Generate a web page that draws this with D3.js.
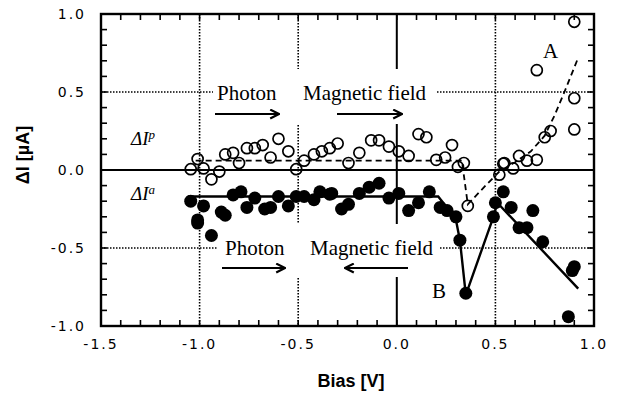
<!DOCTYPE html>
<html>
<head>
<meta charset="utf-8">
<script src="https://cdn.jsdelivr.net/npm/d3@7/dist/d3.min.js"></script>
<style>
  body { margin: 0; background: #fff; }
  svg { display: block; }
</style>
</head>
<body>
<svg id="chart" width="618" height="395"></svg>
<script>
// open circles (dI^p)
const openBias = [-1.045, -1.01, -0.98, -0.94, -0.90, -0.87, -0.83, -0.80, -0.76, -0.72, -0.68, -0.64,
  -0.60, -0.55, -0.51, -0.47, -0.42, -0.38, -0.34, -0.30, -0.245, -0.19, -0.13, -0.09, -0.04, 0.01,
  0.06, 0.11, 0.15, 0.20, 0.245, 0.28, 0.31, 0.34, 0.36, 0.52, 0.54, 0.545, 0.59, 0.62, 0.66, 0.71,
  0.75, 0.78, 0.71, 0.90, 0.90, 0.90];
const openDI = [0.005, 0.07, 0.01, -0.06, -0.01, 0.10, 0.11, 0.045, 0.14, 0.14, 0.16, 0.08,
  0.20, 0.12, 0.005, 0.06, 0.10, 0.12, 0.14, 0.17, 0.045, 0.11, 0.19, 0.19, 0.15, 0.12,
  0.09, 0.23, 0.21, 0.065, 0.08, 0.16, 0.02, 0.045, -0.23, -0.03, 0.04, 0.045, 0.01, 0.09, 0.06, 0.065,
  0.21, 0.25, 0.64, 0.26, 0.46, 0.95];

// filled circles (dI^a)
const filledBias = [-1.045, -1.01, -1.01, -0.98, -0.94, -0.89, -0.87, -0.83, -0.79, -0.76, -0.72, -0.67,
  -0.64, -0.60, -0.55, -0.51, -0.47, -0.42, -0.39, -0.34, -0.33, -0.28, -0.245, -0.19, -0.14, -0.09,
  -0.04, 0.01, 0.06, 0.11, 0.165, 0.22, 0.255, 0.30, 0.32, 0.35, 0.49, 0.50, 0.54, 0.58, 0.62, 0.66,
  0.69, 0.74, 0.87, 0.89, 0.90];
const filledDI = [-0.20, -0.32, -0.34, -0.23, -0.42, -0.27, -0.29, -0.16, -0.14, -0.24, -0.18, -0.25,
  -0.24, -0.17, -0.23, -0.17, -0.17, -0.19, -0.14, -0.155, -0.15, -0.25, -0.22, -0.15, -0.11, -0.085,
  -0.18, -0.15, -0.26, -0.21, -0.14, -0.24, -0.26, -0.30, -0.45, -0.79, -0.30, -0.21, -0.14, -0.24, -0.37, -0.37,
  -0.26, -0.46, -0.94, -0.645, -0.62];

// guide curves
const dashBias = [-1.02, 0.33, 0.36, 0.45, 0.52, 0.60, 0.68, 0.75, 0.80, 0.85, 0.92];
const dashDI = [0.06, 0.06, -0.22, -0.10, -0.01, 0.05, 0.12, 0.22, 0.35, 0.50, 0.72];
const solidBias = [-1.06, 0.21, 0.26, 0.30, 0.32, 0.35, 0.49, 0.51, 0.92];
const solidDI = [-0.17, -0.17, -0.25, -0.32, -0.45, -0.80, -0.30, -0.21, -0.76];

const xTicks = [-1.5, -1.0, -0.5, 0.0, 0.5, 1.0];
const yTicks = [-1.0, -0.5, 0.0, 0.5, 1.0];

const svg = d3.select('#chart');
const margin = {top: 14, right: 24, bottom: 69, left: 101};
const width = 618 - margin.left - margin.right,
  height = 395 - margin.top - margin.bottom;
const g = svg.append('g').attr('transform', 'translate(' + margin.left + ',' + margin.top + ')');

const x = d3.scaleLinear().domain([-1.5, 1.0]).range([0, width]);
const y = d3.scaleLinear().domain([-1.0, 1.0]).range([height, 0]);

// dotted grid
const dotted = '1.5,1.5';
[-1.0, -0.5, 0.5].forEach(function (v) {
  g.append('line').attr('x1', x(v)).attr('x2', x(v)).attr('y1', 0).attr('y2', height)
    .attr('stroke', '#000').attr('stroke-width', 1.6).attr('stroke-dasharray', dotted);
});
[-0.5, 0.5].forEach(function (v) {
  g.append('line').attr('x1', 0).attr('x2', width).attr('y1', y(v)).attr('y2', y(v))
    .attr('stroke', '#000').attr('stroke-width', 1.6).attr('stroke-dasharray', dotted);
});
// solid zero lines
g.append('line').attr('x1', 0).attr('x2', width).attr('y1', y(0)).attr('y2', y(0))
  .attr('stroke', '#000').attr('stroke-width', 2);
g.append('line').attr('x1', x(0)).attr('x2', x(0)).attr('y1', 0).attr('y2', height)
  .attr('stroke', '#000').attr('stroke-width', 2);

// white blocks behind the annotation text
g.append('rect').attr('x', 112).attr('y', 55).attr('width', 223).attr('height', 55).attr('fill', '#fff');
g.append('rect').attr('x', 117).attr('y', 210).attr('width', 222).attr('height', 53).attr('fill', '#fff');

// ticks (inward, every 0.1)
const minorX = d3.range(-15, 11).map(function (i) { return i / 10; });
const minorY = d3.range(-10, 11).map(function (i) { return i / 10; });
const tl = 6;
minorX.forEach(function (v) {
  g.append('line').attr('x1', x(v)).attr('x2', x(v)).attr('y1', height).attr('y2', height - tl)
    .attr('stroke', '#000').attr('stroke-width', 1.6);
  g.append('line').attr('x1', x(v)).attr('x2', x(v)).attr('y1', 0).attr('y2', tl)
    .attr('stroke', '#000').attr('stroke-width', 1.6);
});
minorY.forEach(function (v) {
  g.append('line').attr('x1', 0).attr('x2', tl).attr('y1', y(v)).attr('y2', y(v))
    .attr('stroke', '#000').attr('stroke-width', 1.6);
  g.append('line').attr('x1', width).attr('x2', width - tl).attr('y1', y(v)).attr('y2', y(v))
    .attr('stroke', '#000').attr('stroke-width', 1.6);
});

// frame
g.append('rect').attr('width', width).attr('height', height)
  .attr('fill', 'none').attr('stroke', '#000').attr('stroke-width', 2.4);

// tick labels
g.selectAll('.xl').data(xTicks).enter().append('text')
  .attr('x', function (d) { return x(d); }).attr('y', height + 23)
  .attr('text-anchor', 'middle')
  .style('font', '14px "DejaVu Sans"').style('letter-spacing', '2px')
  .text(function (d) { return d.toFixed(1); });
g.selectAll('.yl').data(yTicks).enter().append('text')
  .attr('x', -15).attr('y', function (d) { return y(d); }).attr('dy', '0.36em')
  .attr('text-anchor', 'end')
  .style('font', '14px "DejaVu Sans"').style('letter-spacing', '2px')
  .text(function (d) { return d.toFixed(1); });

// axis titles
svg.append('text').attr('x', 351).attr('y', 387).attr('text-anchor', 'middle')
  .style('font', 'bold 18px "Liberation Sans"').text('Bias [V]');
svg.append('text').attr('transform', 'translate(29,155) rotate(-90)').attr('text-anchor', 'middle')
  .style('font', 'bold 18px "Liberation Sans"').text('\u0394I [\u00b5A]');

// guide lines
const line = d3.line().x(function (d) { return x(d[0]); }).y(function (d) { return y(d[1]); });
g.append('path').datum(d3.zip(dashBias, dashDI)).attr('d', line)
  .attr('fill', 'none').attr('stroke', '#000').attr('stroke-width', 1.8).attr('stroke-dasharray', '6,4');
g.append('path').datum(d3.zip(solidBias, solidDI)).attr('d', line)
  .attr('fill', 'none').attr('stroke', '#000').attr('stroke-width', 2.4);

// markers
g.selectAll('.op').data(d3.zip(openBias, openDI)).enter().append('circle')
  .attr('cx', function (d) { return x(d[0]); }).attr('cy', function (d) { return y(d[1]); })
  .attr('r', 5.5).attr('fill', 'none').attr('stroke', '#000').attr('stroke-width', 1.7);
g.selectAll('.fp').data(d3.zip(filledBias, filledDI)).enter().append('circle')
  .attr('cx', function (d) { return x(d[0]); }).attr('cy', function (d) { return y(d[1]); })
  .attr('r', 6.5).attr('fill', '#000');

// annotations
const serif = '"Liberation Serif", "Times New Roman", serif';
function label(tx, ty, s, size) {
  svg.append('text').attr('x', tx).attr('y', ty).style('font-family', serif)
    .style('font-size', size + 'px').text(s);
}
label(217, 100, 'Photon', 21);
label(303, 100, 'Magnetic field', 21);
label(225, 255, 'Photon', 21);
label(310, 255, 'Magnetic field', 21);
label(543, 58, 'A', 21);
label(432, 298, 'B', 21);

function ylabel(tx, ty, sup) {
  const t = svg.append('text').attr('x', tx).attr('y', ty)
    .style('font-family', serif).style('font-size', '19px').style('font-style', 'italic');
  t.append('tspan').text('\u0394I');
  t.append('tspan').attr('dy', -6).style('font-size', '13px').text(sup);
}
ylabel(131, 145, 'p');
ylabel(131, 200, 'a');

// arrows
svg.append('defs').append('marker').attr('id', 'head')
  .attr('viewBox', '0 0 10 10').attr('refX', 9).attr('refY', 5)
  .attr('markerWidth', 11).attr('markerHeight', 11).attr('markerUnits', 'userSpaceOnUse')
  .attr('orient', 'auto')
  .append('path').attr('d', 'M1,1 L9,5 L1,9').attr('fill', 'none').attr('stroke', '#000').attr('stroke-width', 2);
function arrow(x1, x2, yy) {
  svg.append('line').attr('x1', x1).attr('x2', x2).attr('y1', yy).attr('y2', yy)
    .attr('stroke', '#000').attr('stroke-width', 2.2).attr('marker-end', 'url(#head)');
}
arrow(215, 279, 114);
arrow(337, 402, 114);
arrow(222, 285, 268);
arrow(408, 345, 268);
</script>
</body>
</html>
